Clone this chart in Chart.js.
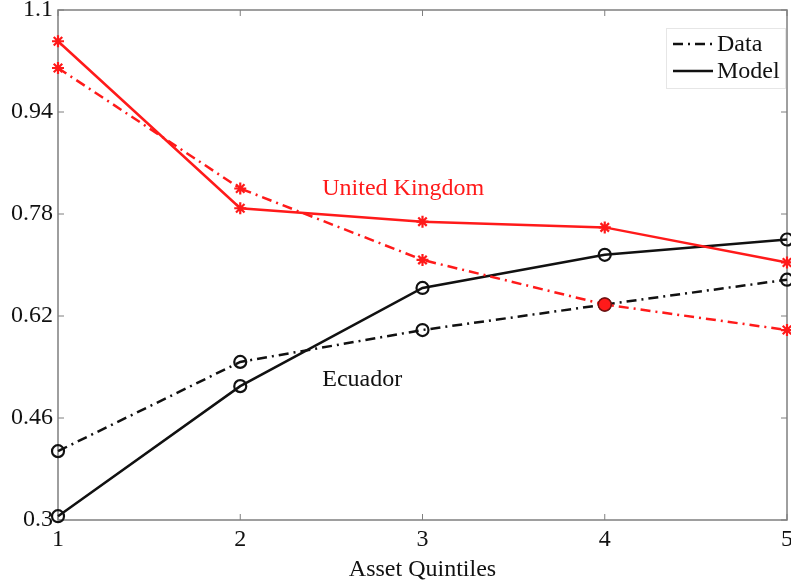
<!DOCTYPE html>
<html>
<head>
<meta charset="utf-8">
<script src="https://cdn.jsdelivr.net/npm/chart.js@4/dist/chart.umd.min.js"></script>
<style>
  html, body { margin: 0; padding: 0; background: #ffffff; }
  #wrap { width: 791px; height: 586px; }
</style>
</head>
<body>
<div id="wrap"><canvas id="c" width="791" height="586"></canvas></div>
<script>
// Asset quintiles on the x axis
const quintiles = [1, 2, 3, 4, 5];
const yTicks = [0.3, 0.46, 0.62, 0.78, 0.94, 1.1];
const yTickLabels = ['0.3', '0.46', '0.62', '0.78', '0.94', '1.1'];

// United Kingdom
const ukModel = [1.051, 0.789, 0.768, 0.759, 0.704];
const ukData  = [1.009, 0.820, 0.708, 0.638, 0.598];
// Ecuador
const ecModel = [0.306, 0.510, 0.664, 0.716, 0.740];
const ecData  = [0.408, 0.548, 0.598, 0.638, 0.677];

const legendLabels = ['Data', 'Model'];
const countryLabels = [
  { text: 'United Kingdom', x: 2.45, y: 0.82, color: '#ff1a1a' },
  { text: 'Ecuador', x: 2.45, y: 0.52, color: '#111111' }
];

const RED = '#ff1a1a';
const BLACK = '#111111';
const DASHDOT = [10, 5, 2, 5];
const FONT = '"Liberation Serif", "Times New Roman", serif';
const FS = 24;

const pts = arr => arr.map((v, i) => ({ x: quintiles[i], y: v }));

// Box frame with inward tick marks, drawn beneath the data
const framePlugin = {
  id: 'frame',
  beforeDatasetsDraw(chart) {
    const { ctx, chartArea: a, scales } = chart;
    ctx.save();
    ctx.strokeStyle = '#7f7f7f';
    ctx.lineWidth = 1.5;
    ctx.strokeRect(a.left, a.top, a.right - a.left, a.bottom - a.top);
    ctx.lineWidth = 1;
    const L = 6;
    ctx.beginPath();
    yTicks.forEach(v => {
      const y = scales.y.getPixelForValue(v);
      ctx.moveTo(a.left, y); ctx.lineTo(a.left + L, y);
      ctx.moveTo(a.right, y); ctx.lineTo(a.right - L, y);
    });
    quintiles.forEach(v => {
      const x = scales.x.getPixelForValue(v);
      ctx.moveTo(x, a.bottom); ctx.lineTo(x, a.bottom - L);
      ctx.moveTo(x, a.top); ctx.lineTo(x, a.top + L);
    });
    ctx.stroke();
    ctx.restore();
  },
  afterDatasetsDraw(chart) {
    const { ctx, scales } = chart;
    ctx.save();
    ctx.font = FS + 'px ' + FONT;
    ctx.textBaseline = 'middle';
    ctx.textAlign = 'left';
    countryLabels.forEach(l => {
      ctx.fillStyle = l.color;
      ctx.fillText(l.text, scales.x.getPixelForValue(l.x), scales.y.getPixelForValue(l.y));
    });
    // legend box in the upper right corner
    const a = chart.chartArea;
    const bx = a.right - 121, by = a.top + 18, bw = 119, bh = 60;
    ctx.fillStyle = '#ffffff';
    ctx.fillRect(bx, by, bw, bh);
    ctx.strokeStyle = '#e6e6e6';
    ctx.lineWidth = 1;
    ctx.strokeRect(bx + 0.5, by + 0.5, bw, bh);
    const rows = [by + 16, by + 43];
    ctx.strokeStyle = BLACK;
    ctx.lineWidth = 2.5;
    rows.forEach((ry, i) => {
      ctx.setLineDash(i === 0 ? DASHDOT : []);
      ctx.beginPath();
      ctx.moveTo(bx + 7, ry); ctx.lineTo(bx + 47, ry);
      ctx.stroke();
      ctx.setLineDash([]);
      ctx.fillStyle = BLACK;
      ctx.fillText(legendLabels[i], bx + 51, ry + 1);
    });
    ctx.restore();
  }
};

const common = { borderWidth: 2.5, pointRadius: 6, pointBorderWidth: 2.2, clip: false, tension: 0 };

new Chart(document.getElementById('c'), {
  type: 'line',
  data: {
    datasets: [
      Object.assign({}, common, {
        label: 'United Kingdom Model', data: pts(ukModel),
        borderColor: RED, pointStyle: 'star', pointBorderColor: RED, pointBackgroundColor: RED
      }),
      Object.assign({}, common, {
        label: 'United Kingdom Data', data: pts(ukData), borderDash: DASHDOT,
        borderColor: RED,
        pointStyle: ['star', 'star', 'star', 'circle', 'star'],
        pointRadius: [6, 6, 6, 6.5, 6],
        pointBorderColor: [RED, RED, RED, '#7a1010', RED],
        pointBorderWidth: [2.2, 2.2, 2.2, 1.5, 2.2],
        pointBackgroundColor: RED
      }),
      Object.assign({}, common, {
        label: 'Ecuador Model', data: pts(ecModel),
        borderColor: BLACK, pointStyle: 'circle', pointBorderColor: BLACK, pointBackgroundColor: 'rgba(0,0,0,0)'
      }),
      Object.assign({}, common, {
        label: 'Ecuador Data', data: pts(ecData), borderDash: DASHDOT,
        borderColor: BLACK, pointStyle: 'circle', pointBorderColor: BLACK, pointBackgroundColor: 'rgba(0,0,0,0)'
      })
    ]
  },
  options: {
    responsive: false,
    animation: false,
    layout: { autoPadding: false, padding: { left: 0, right: 4, top: 10, bottom: 0 } },
    plugins: { legend: { display: false }, tooltip: { enabled: false } },
    scales: {
      x: {
        type: 'linear', min: 1, max: 5,
        grid: { display: false, drawTicks: false }, border: { display: false },
        afterBuildTicks: s => { s.ticks = quintiles.map(v => ({ value: v })); },
        afterFit: s => { s.height = 66; s.paddingLeft = 0; s.paddingRight = 0; },
        ticks: { color: '#111', font: { family: FONT, size: FS }, padding: 5, maxRotation: 0,
                 callback: v => String(v) },
        title: { display: true, text: 'Asset Quintiles', color: '#111',
                 font: { family: FONT, size: FS }, padding: { top: 0, bottom: 2 } }
      },
      y: {
        type: 'linear', min: 0.3, max: 1.1,
        grid: { display: false, drawTicks: false }, border: { display: false },
        afterBuildTicks: s => { s.ticks = yTicks.map(v => ({ value: v })); },
        afterFit: s => { s.width = 58; s.paddingTop = 0; s.paddingBottom = 0; },
        ticks: { color: '#111', font: { family: FONT, size: FS }, padding: 5,
                 callback: (v, i) => yTickLabels[i] }
      }
    }
  },
  plugins: [framePlugin]
});
</script>
</body>
</html>
